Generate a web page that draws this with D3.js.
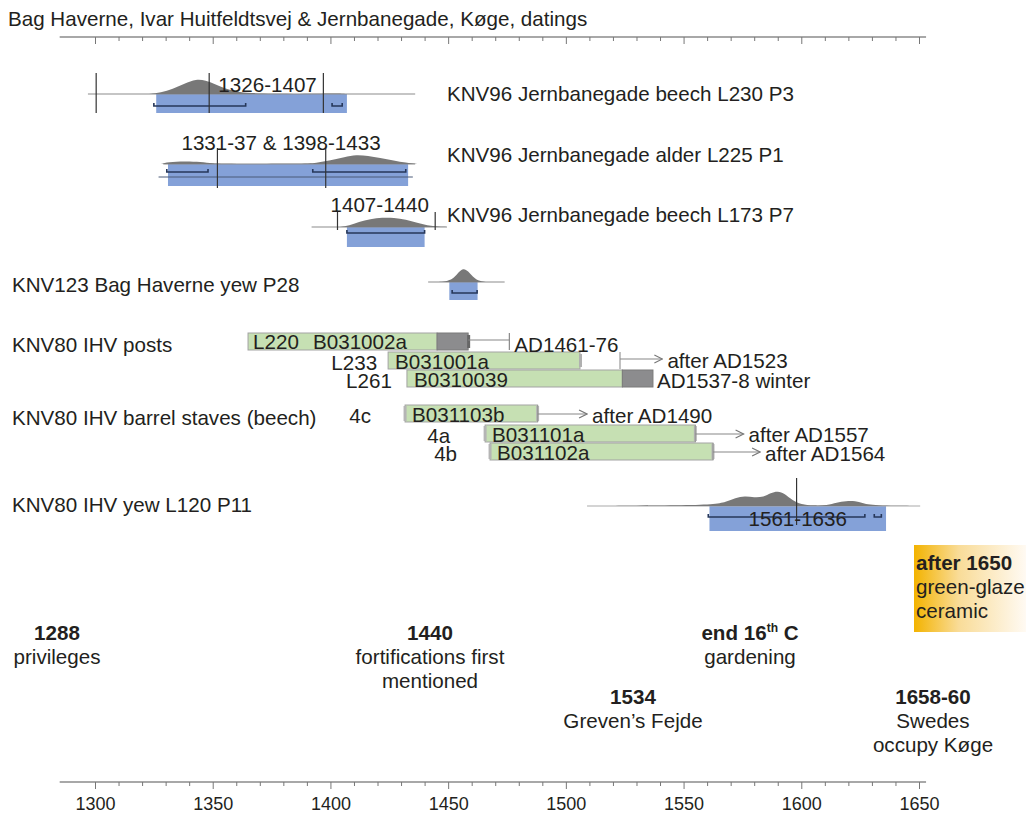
<!DOCTYPE html>
<html>
<head>
<meta charset="utf-8">
<script src="https://cdn.jsdelivr.net/npm/d3@7"></script>
<style>
  body { margin: 0; background: #fff; }
  svg text { font-family: "Liberation Sans", Arial, Helvetica, sans-serif; fill: #231f20; }
</style>
</head>
<body>
<svg id="chart" width="1027" height="814"></svg>
<script>
// ---- Data ----------------------------------------------------------------

const titleText = "Bag Haverne, Ivar Huitfeldtsvej & Jernbanegade, Køge, datings";

// Time axis
const axisLabels = ["1300", "1350", "1400", "1450", "1500", "1550", "1600", "1650"];
const axisSpan = [1285, 1653];

// Radiocarbon datings (calibrated)
const c14Names = [
  "KNV96 Jernbanegade beech L230 P3",
  "KNV96 Jernbanegade alder L225 P1",
  "KNV96 Jernbanegade beech L173 P7",
  "KNV123 Bag Haverne yew P28",
  "KNV80 IHV yew L120 P11"
];
const c14RangeText = ["1326-1407", "1331-37 & 1398-1433", "1407-1440", "", "1561-1636"];
const c14From = [1326, 1331, 1407, 1450.5, 1561];
const c14To = [1407, 1433, 1440, 1462.5, 1636];
const c14Line = [[1297, 1436], [1329, 1436], [1392, 1449.5], [1441.5, 1474], [1509, 1650.5]];
const c14Marks = [[1300.5, 1348.5, 1397], [1352, 1398], [1403, 1444.5], [], [1598]];
const c14Brackets = [
  [[1325, 1364], [1400.7, 1405]],
  [[1330.5, 1348], [1392.5, 1432]],
  [[1407, 1440]],
  [[1451.7, 1462.3]],
  [[1560.5, 1627], [1631, 1634]]
];
// probability distributions: [year, relative density]
const c14Density = [
  [[1323, 0], [1328, 1.5], [1333, 5], [1338, 10.5], [1343, 15], [1347, 13.5], [1351, 10],
   [1355, 5.5], [1360, 2.2], [1366, 0.8], [1375, 0.2], [1392, 0], [1401, 0.6], [1405, 0.3], [1408, 0]],
  [[1328, 0], [1331, 2], [1338, 2.7], [1345, 2.2], [1350, 0.4], [1356, 0], [1388, 0], [1394, 1],
   [1400, 3.5], [1406, 7], [1411, 9.3], [1416, 8], [1421, 6], [1427, 3.6], [1432, 1.3], [1437, 0]],
  [[1404, 0], [1408, 1.5], [1412, 5], [1417, 8], [1422, 9.5], [1427, 9.3], [1432, 7.5],
   [1437, 4], [1441, 1.5], [1446, 0.3], [1450, 0]],
  [[1446, 0], [1450, 1], [1452.5, 4], [1454.5, 10], [1456.5, 14], [1458.5, 11], [1460.5, 5],
   [1462.5, 1.5], [1466, 0]],
  [[1515, 0], [1526, 0.3], [1548, 0.7], [1563, 1.5], [1568, 4], [1572, 8], [1576, 10], [1580, 8.5],
   [1584, 9], [1587, 13], [1590, 15], [1593, 12.5], [1596, 6], [1600, 1.5], [1605, 0.5], [1611, 0.6],
   [1615, 3.5], [1619, 5], [1623, 5], [1626, 3], [1629, 1.2], [1634, 0.5], [1642, 0.2], [1648, 0]]
];

// Dendrochronological datings
const dendroGroups = ["KNV80 IHV posts", "KNV80 IHV barrel staves (beech)"];
const dendroTags = ["L220", "L233", "L261", "4c", "4a", "4b"];
const dendroIds = ["B031002a", "B031001a", "B0310039", "B031103b", "B031101a", "B031102a"];
const ringFrom = [1365, 1424.5, 1432.5, 1431.7, 1465.7, 1467.8];
const ringTo = [1445.3, 1506, 1524, 1488, 1555, 1562.5];
const sapwoodTo = [1458.5, null, 1537, null, null, null];
const fellingFrom = [1458.5, 1523, null, 1488, 1555, 1562.5];
const fellingTo = [1476, 1541, null, 1509, 1575.5, 1582.5];
const fellingKind = ["range", "after", "exact", "after", "after", "after"];
const fellingText = ["AD1461-76", "after AD1523", "AD1537-8 winter", "after AD1490", "after AD1557", "after AD1564"];

// Historical events
const eventHeads = ["1288", "1440", "end 16|th| C", "1534", "1658-60"];
const eventLines = [["privileges"], ["fortifications first", "mentioned"], ["gardening"], ["Greven’s Fejde"], ["Swedes", "occupy Køge"]];

const ceramicLines = ["after 1650", "green-glaze", "ceramic"];

// ---- Drawing -------------------------------------------------------------

const svg = d3.select("#chart");
const defs = svg.append("defs");
const marksLayer = svg.append("g");
const textLayer = svg.append("g");

const x = d3.scaleLinear().domain([1300, 1650]).range([95, 919]);
const dens = d3.scaleLinear().domain([0, 15]).range([0, 15]);
const tickYears = d3.range(1300, 1651, 10);
const FS = 20.6;

function label(px, py, str, opts = {}) {
  const t = textLayer.append("text").attr("x", px).attr("y", py)
    .attr("font-size", opts.size || FS)
    .attr("text-anchor", opts.anchor || "start")
    .attr("font-weight", opts.bold ? "bold" : "normal");
  if (str != null) t.text(str);
  return t;
}

label(8, 26, titleText);

// time axes (top, unlabelled; bottom, labelled)
function drawAxis(y, labelled) {
  marksLayer.append("line")
    .attr("x1", x(axisSpan[0])).attr("x2", x(axisSpan[1]))
    .attr("y1", y).attr("y2", y)
    .attr("stroke", "#a8a8a8").attr("stroke-width", 2);
  const ax = d3.axisBottom(x).tickValues(tickYears).tickSize(5).tickPadding(10)
    .tickFormat(d => labelled && d % 50 === 0 ? axisLabels[(d - 1300) / 50] : "");
  const g = marksLayer.append("g").attr("transform", `translate(0,${y})`).call(ax);
  g.select(".domain").remove();
  g.selectAll(".tick line").attr("stroke", "#777").attr("stroke-width", 1)
    .attr("y2", d => d % 50 === 0 ? 7 : 4);
  g.selectAll(".tick text").attr("font-size", 18).attr("fill", "#231f20")
    .attr("font-family", '"Liberation Sans", Arial, sans-serif');
}
drawAxis(37, false);
drawAxis(782, true);

// radiocarbon plots
const c14Base = [94, 164, 227, 282, 506];
const c14BoxH = [19, 22, 20, 18, 25];
const c14BracketDy = [12, 8, 6, 11, 11];
const c14MarkExt = [[-21, 19], [-16, 24], [-15, 3], [0, 0], [-28, 19]];
const c14LabelDx = [16, -7, -6, 0, 0];
const c14LabelY = [92, 150, 212, 0, 526];
const c14NameAt = [[447, 101], [447, 162], [447, 222], [12, 292], [12, 512]];

c14Names.forEach((name, i) => {
  const base = c14Base[i];
  const g = marksLayer.append("g");
  // calibrated range box
  g.append("rect")
    .attr("x", x(c14From[i])).attr("y", base)
    .attr("width", x(c14To[i]) - x(c14From[i])).attr("height", c14BoxH[i])
    .attr("fill", "#84a1d8");
  // baseline
  g.append("line")
    .attr("x1", x(c14Line[i][0])).attr("x2", x(c14Line[i][1]))
    .attr("y1", base).attr("y2", base)
    .attr("stroke", i === 4 ? "#a9a9a9" : "#8c8c8c").attr("stroke-width", 1.2);
  if (i === 1) {
    g.append("line")
      .attr("x1", x(1327)).attr("x2", x(1435))
      .attr("y1", base + 13).attr("y2", base + 13)
      .attr("stroke", "#4a5a78").attr("stroke-width", 1);
  }
  // probability distribution
  const area = d3.area()
    .x(d => x(d[0])).y0(base).y1(d => base - dens(d[1]))
    .curve(d3.curveBasis);
  g.append("path").datum(c14Density[i]).attr("d", area).attr("fill", "#787878");
  // confidence brackets
  c14Brackets[i].forEach(b => {
    const by = base + c14BracketDy[i];
    g.append("path")
      .attr("d", `M${x(b[0])},${by - 3}V${by}H${x(b[1])}V${by - 3}`)
      .attr("fill", "none").attr("stroke", "#26375a").attr("stroke-width", 1.6);
  });
  // reference marks
  c14Marks[i].forEach(m => {
    g.append("line")
      .attr("x1", x(m)).attr("x2", x(m))
      .attr("y1", base + c14MarkExt[i][0]).attr("y2", base + c14MarkExt[i][1])
      .attr("stroke", "#333").attr("stroke-width", 1.2);
  });
  if (c14RangeText[i]) {
    label(x((c14From[i] + c14To[i]) / 2) + c14LabelDx[i], c14LabelY[i], c14RangeText[i], { anchor: "middle" });
  }
  label(c14NameAt[i][0], c14NameAt[i][1], name);
});

// dendro bars
defs.append("marker")
  .attr("id", "arrow").attr("viewBox", "0 0 10 10")
  .attr("refX", 9).attr("refY", 5)
  .attr("markerWidth", 10).attr("markerHeight", 10)
  .attr("markerUnits", "userSpaceOnUse").attr("orient", "auto")
  .append("path").attr("d", "M1,1L9,5L1,9")
  .attr("fill", "none").attr("stroke", "#777").attr("stroke-width", 1.2);

label(12, 352, dendroGroups[0]);
label(12, 425, dendroGroups[1]);

const barTop = [333, 352, 370, 405, 425, 443];
const barH = 17;
const tagGap = [0, 11, 15, 34, 35, 33];
const noteDy = [19, 16, 18, 18, 17, 18];

dendroIds.forEach((id, i) => {
  const y = barTop[i];
  const g = marksLayer.append("g");
  g.append("rect")
    .attr("x", x(ringFrom[i])).attr("y", y)
    .attr("width", x(ringTo[i]) - x(ringFrom[i])).attr("height", barH)
    .attr("fill", "#c6e0b3").attr("stroke", "#a3a3a3").attr("stroke-width", 1);
  if (sapwoodTo[i] != null) {
    g.append("rect")
      .attr("x", x(ringTo[i])).attr("y", y)
      .attr("width", x(sapwoodTo[i]) - x(ringTo[i])).attr("height", barH)
      .attr("fill", "#8c8c8e").attr("stroke", "#7a7a7a").attr("stroke-width", 1);
  }
  if (i >= 3) {
    // waney edge markers on the staves
    [ringFrom[i], ringTo[i]].forEach(v => {
      g.append("rect").attr("x", x(v) - 1.5).attr("y", y + 1)
        .attr("width", 3).attr("height", barH - 2).attr("fill", "#b5b5b5");
    });
  } else if (i === 0) {
    g.append("rect").attr("x", x(sapwoodTo[i]) - 1).attr("y", y + 2)
      .attr("width", 3).attr("height", barH - 4).attr("fill", "#666");
  } else if (i === 1) {
    g.append("rect").attr("x", x(ringTo[i]) - 1).attr("y", y + 2)
      .attr("width", 3).attr("height", barH - 4).attr("fill", "#b0b0b0");
  }

  let noteX;
  if (fellingKind[i] === "range") {
    const ly = y + 7;
    g.append("line").attr("x1", x(fellingFrom[i])).attr("x2", x(fellingTo[i]))
      .attr("y1", ly).attr("y2", ly).attr("stroke", "#888").attr("stroke-width", 1.2);
    g.append("line").attr("x1", x(fellingTo[i])).attr("x2", x(fellingTo[i]))
      .attr("y1", y).attr("y2", y + barH).attr("stroke", "#888").attr("stroke-width", 1.2);
    noteX = x(fellingTo[i]) + 5;
  } else if (fellingKind[i] === "after") {
    const ly = y + (i === 1 ? 7 : 9);
    g.append("line").attr("x1", x(fellingFrom[i])).attr("x2", x(fellingFrom[i]))
      .attr("y1", y).attr("y2", y + barH).attr("stroke", "#999").attr("stroke-width", 1.2);
    g.append("line").attr("x1", x(fellingFrom[i])).attr("x2", x(fellingTo[i]))
      .attr("y1", ly).attr("y2", ly).attr("stroke", "#888").attr("stroke-width", 1.2)
      .attr("marker-end", "url(#arrow)");
    noteX = x(fellingTo[i]) + 5;
  } else {
    noteX = x(sapwoodTo[i]) + 4;
  }
  label(noteX, y + noteDy[i], fellingText[i]);

  if (i === 0) {
    label(x(ringFrom[i]) + 5, y + 16, dendroTags[i]);
    label(x(ringFrom[i]) + 65, y + 16, id);
  } else {
    label(x(ringFrom[i]) - tagGap[i], y + 18, dendroTags[i], { anchor: "end" });
    label(x(ringFrom[i]) + 7, y + 17, id);
  }
});

// ceramic terminus box
const grad = defs.append("linearGradient").attr("id", "glaze")
  .attr("x1", "0%").attr("x2", "100%").attr("y1", "0%").attr("y2", "0%");
grad.append("stop").attr("offset", "0%").attr("stop-color", "#f3b300");
grad.append("stop").attr("offset", "40%").attr("stop-color", "#f9dc98");
grad.append("stop").attr("offset", "100%").attr("stop-color", "#fffaf3");
marksLayer.append("rect").attr("x", 914).attr("y", 545).attr("width", 112).attr("height", 87)
  .attr("fill", "url(#glaze)");
ceramicLines.forEach((t, i) => {
  label(916, 570 + i * 24, t, { bold: i === 0 });
});

// historical events
const eventAt = [[57, 640], [430, 640], [750, 640], [633, 704], [933, 704]];
eventHeads.forEach((h, i) => {
  const [ex, ey] = eventAt[i];
  const head = label(ex, ey, null, { anchor: "middle", bold: true });
  const parts = h.split("|");
  if (parts.length === 1) {
    head.text(h);
  } else {
    head.append("tspan").text(parts[0]);
    head.append("tspan").attr("font-size", 12).attr("dy", -8).text(parts[1]);
    head.append("tspan").attr("dy", 8).text(parts[2]);
  }
  eventLines[i].forEach((l, j) => {
    label(ex, ey + 24 * (j + 1), l, { anchor: "middle" });
  });
});
</script>
</body>
</html>
